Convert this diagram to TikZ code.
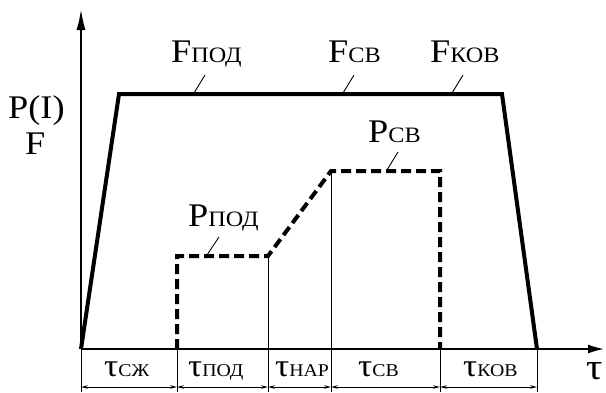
\documentclass[tikz,border=0pt]{standalone}
\usepackage{fontspec}
\setmainfont{Liberation Serif}[FakeStretch=1.1]
\usetikzlibrary{arrows.meta}
% smaller capitals used as the index of a quantity
\newcommand{\idx}[1]{{\fontsize{22}{22}\selectfont #1}}
\newcommand{\tidx}[1]{{\fontsize{18}{18}\selectfont #1}}
\begin{document}
\begin{tikzpicture}[x=1pt,y=-1pt,
  axis/.style={line width=2.6pt},
  force/.style={line width=4pt, line join=miter},
  pres/.style={line width=4pt, dash pattern=on 10pt off 5pt},
  guide/.style={line width=0.9pt},
  dim/.style={line width=0.9pt, {Stealth[length=7pt,width=3.5pt]}-{Stealth[length=7pt,width=3.5pt]}},
  lead/.style={line width=0.9pt},
  big/.style={font=\fontsize{33}{34}\selectfont, inner sep=0pt, anchor=base west},
  tlab/.style={font=\fontsize{32}{32}\selectfont, inner sep=0pt, anchor=base west}]
\useasboundingbox (0,0) rectangle (606,392);

% time marks on the axis
\coordinate (O)  at (81,349);
\coordinate (t1) at (177,349);
\coordinate (t2) at (268,349);
\coordinate (t3) at (331,349);
\coordinate (t4) at (440,349);
\coordinate (t5) at (537,349);

% electrode force
\coordinate (f1) at (119,94);
\coordinate (f2) at (502,94);
\draw[force] (O) -- (f1) -- (f2) -- (t5);

% current / power
\coordinate (p1) at (177,256);
\coordinate (p2) at (268,256);
\coordinate (p3) at (331,171);
\coordinate (p4) at (440,171);
\draw[pres] (t1) -- (p1) -- (p2) -- (p3) -- (p4) -- (t4);

% guide lines down to the dimension row
\foreach \c in {O,t1,t4,t5} \draw[guide] (\c) -- ++(0,43);
\draw[guide] (p2) -- ++(0,136);
\draw[guide] (p3) -- ++(0,221);

% axes
\coordinate (ytop) at (81,8);
\coordinate (xend) at (605,349);
\draw[axis,-{Latex[length=22pt,width=9pt]}] (O) -- (ytop);
\draw[axis,-{Latex[length=17pt,width=9pt]}] (O) -- (xend);

% interval dimensions
\foreach \a/\b in {O/t1,t1/t2,t2/t3,t3/t4,t4/t5}
  \draw[dim] ([yshift=-38pt]\a) -- ([yshift=-38pt]\b);

% interval labels
\node[tlab] (Lszh) at (104,376) {τ\tidx{СЖ}};
\node[tlab] (Lpod) at (188,376) {τ\tidx{ПОД}};
\node[tlab] (Lnar) at (275,376) {τ\tidx{НАР}};
\node[tlab] (Lsv)  at (358,376) {τ\tidx{СВ}};
\node[tlab] (Lkov) at (463,376) {τ\tidx{КОВ}};
\node[font=\fontsize{37}{37}\selectfont, inner sep=0pt, anchor=base west] (tau) at (586,379) {τ};

% axis title
\node[big] (PI) at (8,118) {P(I)};
\node[big] (FF) at (25,154) {F};

% curve labels with leaders
\node[big] (Fpod) at (171,62) {F\idx{ПОД}};
\node[big] (Fsv)  at (328,62) {F\idx{СВ}};
\node[big] (Fkov) at (430,62) {F\idx{КОВ}};
\node[big] (Psv)  at (368,142) {P\idx{СВ}};
\node[big] (Ppod) at (188,226) {P\idx{ПОД}};

\draw[lead] (194,93) -- (205,75);
\draw[lead] (343,93) -- (354,75);
\draw[lead] (452,93) -- (463,75);
\draw[lead] (387,170) -- (398,152);
\draw[lead] (207,255) -- (219,237);
\end{tikzpicture}
\end{document}
